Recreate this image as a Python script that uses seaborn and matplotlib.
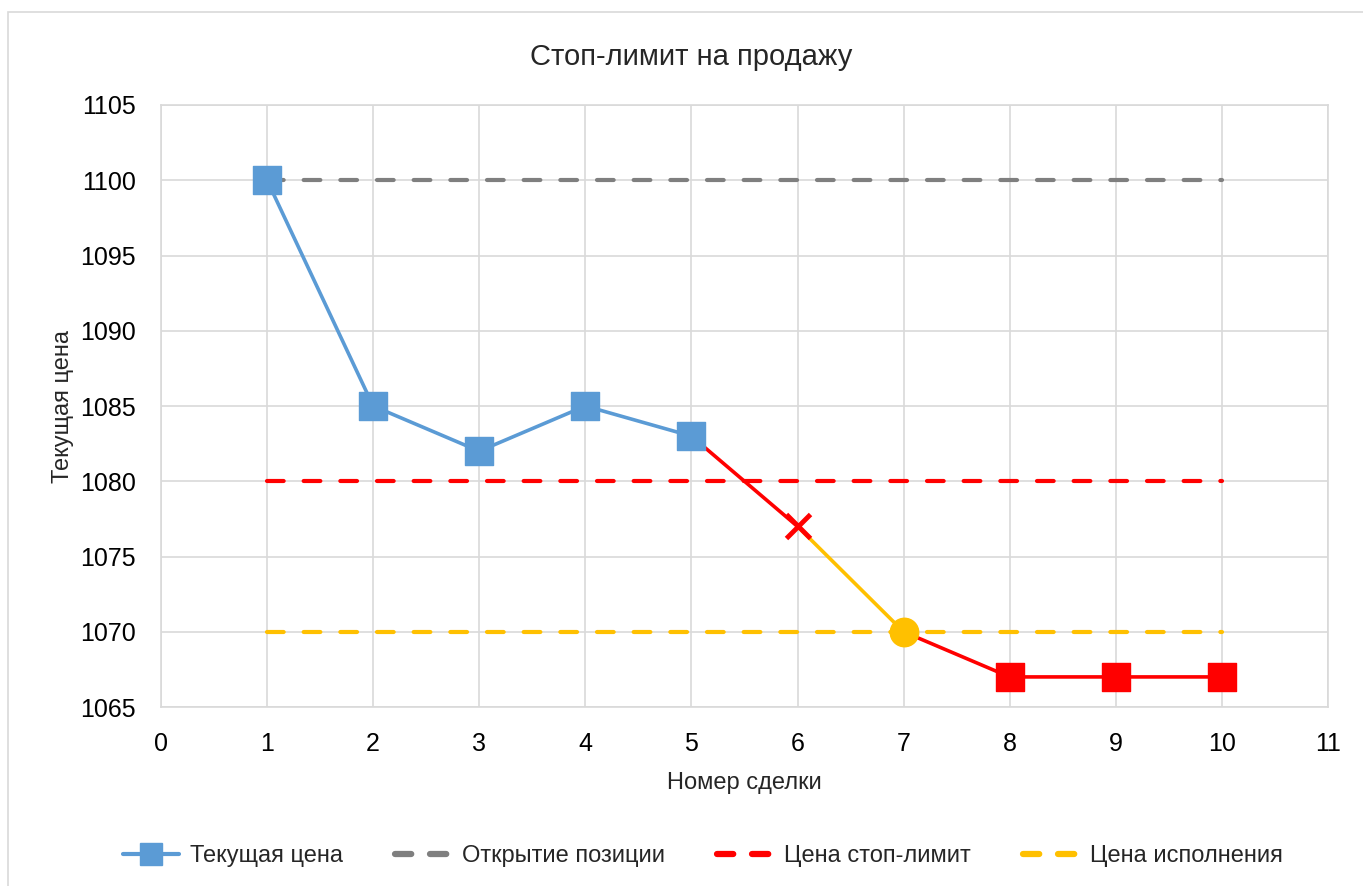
import matplotlib
matplotlib.use("Agg")
import matplotlib.pyplot as plt
import seaborn as sns
from matplotlib.lines import Line2D
from matplotlib.patches import Rectangle

# data
deals = [1, 2, 3, 4, 5, 6, 7, 8, 9, 10]
price = [1100, 1085, 1082, 1085, 1083, 1077, 1070, 1067, 1067, 1067]
open_price = [1100] * 10
stop_price = [1080] * 10
exec_price = [1070] * 10

labels = ["Текущая цена", "Открытие позиции", "Цена стоп-лимит", "Цена исполнения"]
blue, gray, red, yellow = "#5B9BD5", "#7F7F7F", "#FF0000", "#FFC000"

sns.set_style("white")
plt.rcParams["font.family"] = ["Liberation Sans", "DejaVu Sans"]

fig = plt.figure(figsize=(13.63, 8.86), dpi=100)
ax = fig.add_axes([0.1181, 0.2020, 0.9743 - 0.1181, 0.8815 - 0.2020])

# outer chart frame
fig.patches.append(Rectangle((8 / 1363, -0.01), 1.0, 1 - 12 / 886 + 0.01,
                             transform=fig.transFigure, fill=False,
                             edgecolor="#D9D9D9", linewidth=1.2))

# dashed reference levels
dash_kw = dict(linewidth=3, dashes=(4, 4.8), dash_capstyle="round", zorder=2)
sns.lineplot(x=deals, y=open_price, color=gray, ax=ax, **dash_kw)
sns.lineplot(x=deals, y=stop_price, color=red, ax=ax, **dash_kw)
sns.lineplot(x=deals, y=exec_price, color=yellow, ax=ax, **dash_kw)

# price path, coloured by stage
seg_kw = dict(linewidth=2.6, zorder=3)
sns.lineplot(x=deals[0:5], y=price[0:5], color=blue, ax=ax, **seg_kw)
sns.lineplot(x=deals[4:6], y=price[4:6], color=red, ax=ax, **seg_kw)
sns.lineplot(x=deals[5:7], y=price[5:7], color=yellow, ax=ax, **seg_kw)
sns.lineplot(x=deals[6:10], y=price[6:10], color=red, ax=ax, **seg_kw)

# markers
sns.scatterplot(x=deals[0:5], y=price[0:5], marker="s", s=400, color=blue,
                edgecolor=blue, linewidth=1, ax=ax, zorder=4)
sns.scatterplot(x=deals[5:6], y=price[5:6], marker="x", s=300, color=red,
                linewidth=3.5, ax=ax, zorder=4)
sns.scatterplot(x=deals[6:7], y=price[6:7], marker="o", s=420, color=yellow,
                edgecolor=yellow, linewidth=1, ax=ax, zorder=4)
sns.scatterplot(x=deals[7:10], y=price[7:10], marker="s", s=400, color=red,
                edgecolor=red, linewidth=1, ax=ax, zorder=4)

ax.set_xlim(0, 11)
ax.set_ylim(1065, 1105)
ax.set_xticks(range(0, 12))
ax.set_yticks(range(1065, 1106, 5))
ax.grid(True, color="#D9D9D9", linewidth=1.2)
ax.set_axisbelow(True)
for s in ax.spines.values():
    s.set_color("#D9D9D9")
    s.set_linewidth(1.2)
ax.tick_params(axis="both", length=0, labelsize=18, colors="black")
ax.tick_params(axis="x", pad=18)
ax.tick_params(axis="y", pad=18)

fig.text(691 / 1363, 1 - 57 / 886, "Стоп-лимит на продажу", fontsize=21,
         ha="center", va="center")
ax.set_xlabel("Номер сделки", fontsize=17)
ax.set_ylabel("Текущая цена", fontsize=17)
ax.xaxis.set_label_coords(0.5, -(772 - 707) / (707 - 105))
ax.yaxis.set_label_coords(-(161 - 74) / (1328 - 161), 0.5)

handles = [
    Line2D([], [], color=blue, linewidth=3, marker="s", markersize=16),
    Line2D([], [], color=gray, linewidth=4.5, dashes=(2.6, 3.0), dash_capstyle="round"),
    Line2D([], [], color=red, linewidth=4.5, dashes=(2.6, 3.0), dash_capstyle="round"),
    Line2D([], [], color=yellow, linewidth=4.5, dashes=(2.6, 3.0), dash_capstyle="round"),
]
fig.legend(handles, labels, loc="center", bbox_to_anchor=(703 / 1363, 1 - 856 / 886),
           ncol=4, frameon=False, fontsize=17, handlelength=2.4,
           columnspacing=2.2, handletextpad=0.45)

fig.savefig("out.png", dpi=100)
